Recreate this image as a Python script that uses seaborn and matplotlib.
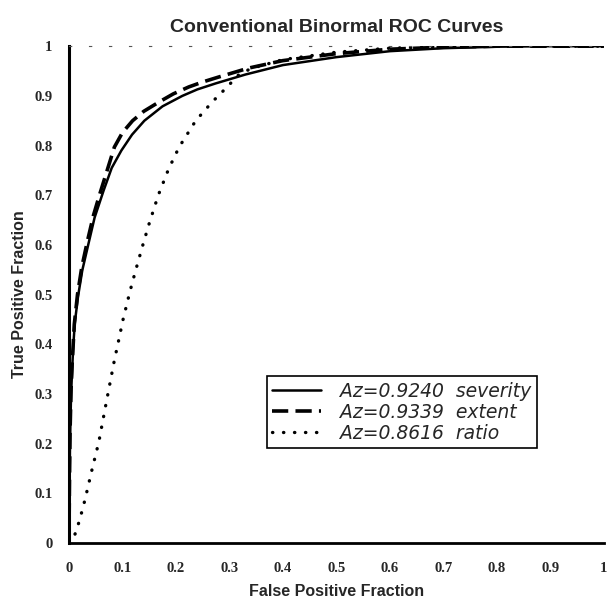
import pandas as pd
import numpy as np
import matplotlib
matplotlib.use("Agg")
import matplotlib.pyplot as plt
import seaborn as sns

# --- values

fpf_severity = [0, 0.001, 0.002, 0.004, 0.006, 0.008, 0.011, 0.017, 0.025, 0.036, 0.048,
                0.065, 0.08, 0.098, 0.118, 0.141, 0.175, 0.212, 0.24, 0.274, 0.33, 0.4,
                0.5, 0.6, 0.7, 0.8, 0.9, 1.0]
tpf_severity = [0, 0.1, 0.2, 0.3, 0.348, 0.395, 0.443, 0.496, 0.549, 0.600, 0.655,
                0.71, 0.755, 0.79, 0.822, 0.85, 0.879, 0.90, 0.913, 0.925, 0.943, 0.962,
                0.978, 0.99, 0.996, 0.999, 1.0, 1.0]

fpf_extent = [0, 0.001, 0.002, 0.004, 0.006, 0.01, 0.016, 0.024, 0.034, 0.046, 0.057,
              0.07, 0.085, 0.1, 0.119, 0.14, 0.169, 0.195, 0.224, 0.25, 0.28, 0.336, 0.4,
              0.5, 0.6, 0.7, 0.8, 0.9, 1.0]
tpf_extent = [0, 0.12, 0.22, 0.31, 0.36, 0.44, 0.50, 0.555, 0.605, 0.66, 0.70,
              0.745, 0.797, 0.826, 0.85, 0.869, 0.888, 0.904, 0.918, 0.928, 0.938, 0.956, 0.971,
              0.985, 0.994, 0.998, 1.0, 1.0, 1.0]

fpf_ratio = [0, 0.009, 0.020, 0.030, 0.043, 0.056, 0.070, 0.085, 0.093, 0.101, 0.114,
             0.124, 0.139, 0.150, 0.167, 0.186, 0.206, 0.237, 0.268, 0.293, 0.317, 0.34, 0.4,
             0.5, 0.6, 0.7, 0.8, 1.0]
tpf_ratio = [0, 0.010, 0.046, 0.087, 0.147, 0.204, 0.284, 0.368, 0.408, 0.449, 0.506,
             0.546, 0.603, 0.643, 0.70, 0.752, 0.797, 0.85, 0.888, 0.915, 0.942, 0.955, 0.973,
             0.988, 0.996, 0.999, 1.0, 1.0]

labels = ["Az=0.9240  severity", "Az=0.9339  extent", "Az=0.8616  ratio"]
ticks = [0, 0.1, 0.2, 0.3, 0.4, 0.5, 0.6, 0.7, 0.8, 0.9, 1.0]
tick_labels = ["0", "0.1", "0.2", "0.3", "0.4", "0.5", "0.6", "0.7", "0.8", "0.9", "1"]

sns.set_style("white")
plt.rcParams['font.family'] = ['Liberation Sans', 'DejaVu Sans']

fig = plt.figure(figsize=(6.1, 6.08), dpi=100)
ax = fig.add_axes([0.113, 0.107, 0.877, 0.817])

sns.lineplot(x=fpf_severity, y=tpf_severity, ax=ax, color='black', lw=1.8,
             sort=False, estimator=None, label=labels[0])
sns.lineplot(x=fpf_extent, y=tpf_extent, ax=ax, color='black', lw=2.6,
             linestyle=(0, (4.5, 2)), sort=False, estimator=None, label=labels[1])
sns.lineplot(x=fpf_ratio, y=tpf_ratio, ax=ax, color='black', lw=2.4,
             linestyle=(0, (0.1, 3.2)), dash_capstyle='round',
             sort=False, estimator=None, label=labels[2])

ax.set_xlim(0, 1)
ax.set_ylim(0, 1)
ax.set_xticks(ticks)
ax.set_yticks(ticks)
ax.set_xticklabels(tick_labels, family='Liberation Serif', fontweight='bold', fontsize=10.5)
ax.set_yticklabels(tick_labels, family='Liberation Serif', fontweight='bold', fontsize=10.5)
ax.tick_params(direction='in', length=3, width=1, color='black', pad=14)
ax.tick_params(axis='y', pad=12)

sns.despine(ax=ax, top=False, right=True)
ax.spines['left'].set_linewidth(2.2)
ax.spines['bottom'].set_linewidth(2.0)
ax.spines['left'].set_color('black')
ax.spines['bottom'].set_color('black')
ax.spines['top'].set_linewidth(0.8)
ax.spines['top'].set_color('#555555')
ax.spines['top'].set_linestyle((0, (2, 16)))

ax.set_title('Conventional Binormal ROC Curves', fontsize=14, fontweight='heavy', pad=10)
ax.set_xlabel('False Positive Fraction', fontsize=11.5, fontweight='heavy', labelpad=6)
ax.set_ylabel('True Positive Fraction', fontsize=11.5, fontweight='heavy', labelpad=5)

leg = ax.legend(loc='lower left', bbox_to_anchor=(0.352, 0.172), frameon=True,
                fancybox=False, edgecolor='black', handlelength=2.6,
                borderpad=0.3, labelspacing=0.1, handletextpad=1.0,
                prop={'style': 'italic', 'size': 13.5, 'family': 'DejaVu Sans'})
leg.get_frame().set_linewidth(1.2)
leg.get_frame().set_alpha(1)

fig.savefig('out.png', dpi=100)
